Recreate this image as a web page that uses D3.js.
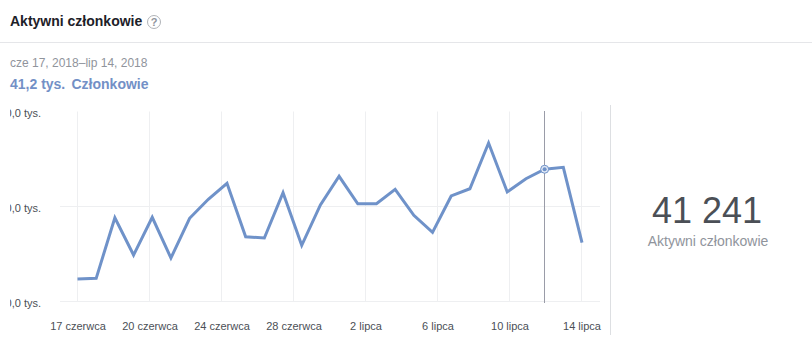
<!DOCTYPE html>
<html>
<head>
<meta charset="utf-8">
<script src="https://cdn.jsdelivr.net/npm/d3@7"></script>
<style>
html,body{margin:0;padding:0;background:#fff}
svg{display:block}
text{font-family:"Liberation Sans",Arial,sans-serif}
</style>
</head>
<body>
<svg id="c" width="812" height="362"></svg>
<script>
const days = ["17 cze","18 cze","19 cze","20 cze","21 cze","22 cze","23 cze","24 cze","25 cze","26 cze","27 cze","28 cze","29 cze","30 cze","1 lip","2 lip","3 lip","4 lip","5 lip","6 lip","7 lip","8 lip","9 lip","10 lip","11 lip","12 lip","13 lip","14 lip"];
const members = [32.37,32.44,38.82,34.89,38.86,34.58,38.76,40.76,42.44,36.82,36.68,41.45,35.92,40.16,43.18,40.29,40.29,41.81,39.07,37.28,41.11,41.87,46.68,41.53,42.93,43.92,44.13,36.19];
const xTickLabels = ["17 czerwca","20 czerwca","24 czerwca","28 czerwca","2 lipca","6 lipca","10 lipca","14 lipca"];
const yTicks = [30,40,50];
const hoverDay = "12 lip";
const titleText = "Aktywni członkowie";
const rangeText = "cze 17, 2018–lip 14, 2018";
const hoverText = "41,2 tys.";
const seriesName = "Członkowie";
const bigNumber = "41 241";

const svg = d3.select("#c");
const x = d3.scalePoint().domain(days).range([77.5,582]);
const xt = d3.scalePoint().domain(xTickLabels).range([77.5,581.5]);
const y = d3.scaleLinear().domain([30,50]).range([301.5,111.5]);

// header
svg.append("line").attr("x1",0).attr("x2",812).attr("y1",42.5).attr("y2",42.5).attr("stroke","#e5e6e9");
svg.append("text").attr("x",10).attr("y",26).attr("font-size",14).attr("font-weight","bold").attr("fill","#1d2129").text(titleText);
const q = svg.append("g").attr("transform","translate(154,22)");
q.append("circle").attr("r",6.5).attr("fill","none").attr("stroke","#b0b3b8");
q.append("text").attr("text-anchor","middle").attr("y",4).attr("font-size",11).attr("font-weight","bold").attr("fill","#90949c").text("?");
svg.append("text").attr("x",10).attr("y",67).attr("font-size",12).attr("fill","#90949c").text(rangeText);
svg.append("text").attr("x",10).attr("y",89).attr("font-size",14).attr("font-weight","bold").attr("fill","#7390c6").text(hoverText);
svg.append("text").attr("x",71.5).attr("y",89).attr("font-size",14).attr("font-weight","bold").attr("fill","#7390c6").text(seriesName);

// grid
svg.append("g").selectAll("line").data(xTickLabels).join("line")
  .attr("x1",d=>xt(d)).attr("x2",d=>xt(d)).attr("y1",111.5).attr("y2",301.5)
  .attr("stroke","#eeeff1");
svg.append("g").selectAll("line").data(yTicks.filter(v=>v<50)).join("line")
  .attr("x1",60).attr("x2",600).attr("y1",d=>y(d)).attr("y2",d=>y(d))
  .attr("stroke","#eeeff1");

// y labels, first digit cut off by the chart's left edge
svg.append("defs").append("clipPath").attr("id","yclip").append("rect")
  .attr("x",10).attr("y",100).attr("width",60).attr("height",220);
svg.append("g").attr("clip-path","url(#yclip)").selectAll("text").data(yTicks).join("text")
  .attr("x",41).attr("y",d=>y(d)+5).attr("text-anchor","end")
  .attr("font-size",11).attr("fill","#4b4f56").text(d=>d3.format(".1f")(d).replace(".",",")+" tys.");

// x labels
svg.append("g").selectAll("text").data(xTickLabels).join("text")
  .attr("x",d=>xt(d)+0.5).attr("y",330).attr("text-anchor","middle")
  .attr("font-size",11).attr("fill","#4b4f56").text(d=>d);

// divider
svg.append("line").attr("x1",610.5).attr("x2",610.5).attr("y1",105).attr("y2",335).attr("stroke","#dddfe2");

// hover cursor
svg.append("line").attr("x1",x(hoverDay)).attr("x2",x(hoverDay)).attr("y1",111).attr("y2",303).attr("stroke","#9a9ca8").attr("shape-rendering","crispEdges");

// series
const line = d3.line().x((d,i)=>x(days[i])).y(d=>y(d));
svg.append("path").datum(members).attr("d",line).attr("fill","none").attr("stroke","#6f92c9").attr("stroke-width",3).attr("stroke-linejoin","miter");

// hover marker
const hv = members[days.indexOf(hoverDay)];
svg.append("circle").attr("cx",x(hoverDay)).attr("cy",y(hv)).attr("r",4).attr("fill","#dfe7f4").attr("stroke","#6f92c9").attr("stroke-width",1);
svg.append("circle").attr("cx",x(hoverDay)).attr("cy",y(hv)).attr("r",2).attr("fill","#6f92c9");

// summary
svg.append("text").attr("x",707).attr("y",223).attr("text-anchor","middle").attr("font-size",36).attr("fill","#4b4f56").text(bigNumber);
svg.append("text").attr("x",708).attr("y",246).attr("text-anchor","middle").attr("font-size",14).attr("fill","#90949c").text(titleText);
</script>
</body>
</html>
